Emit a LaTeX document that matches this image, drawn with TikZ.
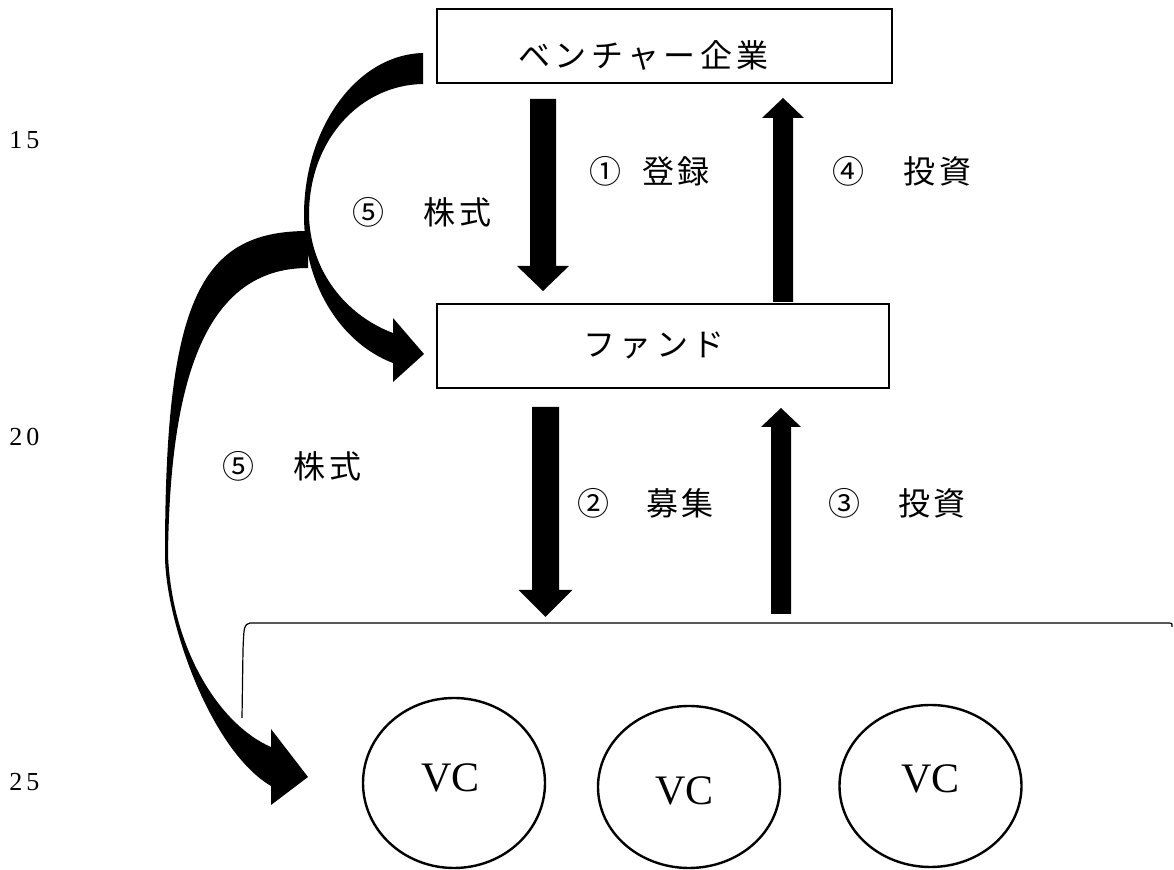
\documentclass[tikz,border=0pt]{standalone}
\usepackage{fontspec}
\setmainfont{Liberation Serif}
\newfontfamily\jp{Noto Sans CJK JP}
\usetikzlibrary{shapes.geometric}
\makeatletter
\newcommand\lsp[2]{\def\lsp@sep{}\@tfor\lsp@c:=#2\do{\lsp@sep\lsp@c\def\lsp@sep{\kern#1}}}
\makeatother
% vertical block arrow: x centre, y start, y head base, y tip, shaft half width, head half width
\newcommand\vblock[6]{\fill (#1-#5,#2) -- (#1-#5,#3) -- (#1-#6,#3) -- (#1,#4) -- (#1+#6,#3) -- (#1+#5,#3) -- (#1+#5,#2) -- cycle;}
\tikzset{
  boxnode/.style={draw, line width=1.3pt, rectangle, inner sep=0pt, outer sep=0pt},
  vcnode/.style={draw, line width=1.2pt, ellipse, inner sep=0pt, outer sep=0pt, minimum width=91pt},
  jptext/.style={inner sep=0pt, font=\jp\fontsize{16}{18}\selectfont},
  vctext/.style={inner sep=0pt, font=\fontsize{21}{24}\selectfont},
  linenum/.style={inner sep=0pt, font=\fontsize{13}{15}\selectfont},
}
\begin{document}
\begin{tikzpicture}[x=0.5pt, y=-0.5pt]
\useasboundingbox (0,0) rectangle (1174,870);
% boxes
\node[boxnode, minimum width=227.5pt, minimum height=37pt] (venture) at (664.5,46) {};
\node[jptext] (ventureT) at (643.5,55) {\lsp{2.2pt}{ベンチャー企業}};
\node[boxnode, minimum width=226pt, minimum height=42pt] (fund) at (663,346) {};
\node[jptext] (fundT) at (654,345) {\lsp{2.2pt}{ファンド}};
% VC ellipses
\node[vcnode, minimum height=85pt] (vc1) at (454,783) {};
\node[vcnode, minimum height=81pt] (vc2) at (689,787) {};
\node[vcnode, minimum height=81pt] (vc3) at (930.5,786) {};
\node[vctext] (vc1T) at (450.5,777.5) {VC};
\node[vctext] (vc2T) at (684.5,791) {VC};
\node[vctext] (vc3T) at (930.5,779) {VC};
% labels
\node[jptext] (l1) at (649.5,171) {\lsp{1.5pt}{①{\kern8pt}登録}};
\node[jptext] (l4) at (902,171) {\lsp{1.7pt}{④　投資}};
\node[jptext] (l2) at (645.5,503) {\lsp{1.5pt}{②　募集}};
\node[jptext] (l3) at (897,503) {\lsp{1.5pt}{③　投資}};
\node[jptext] (l5a) at (422,212) {\lsp{1.7pt}{⑤　株式}};
\node[jptext] (l5b) at (292,466) {\lsp{1.7pt}{⑤　株式}};
% line numbers
\node[linenum] (n15) at (24.5,140) {1\kern2pt 5};
\node[linenum] (n20) at (24.5,437) {2\kern2pt 0};
\node[linenum] (n25) at (24.5,782) {2\kern2pt 5};
% straight block arrows
\vblock{543}{99}{266}{291}{13}{26}
\vblock{783}{302}{118}{98}{10}{21}
\vblock{545.5}{407}{590}{617}{13.5}{27}
\vblock{781}{614}{427}{408}{10}{20}
% curved arrow: venture -> fund
\fill (423,53) .. controls (355,55) and (304,130) .. (304,215)
  .. controls (304,290) and (345,345) .. (393,363)
  -- (393,382) -- (424,354) -- (393,318) -- (393,333)
  .. controls (345,315) and (310,270) .. (309,215)
  .. controls (309,140) and (360,85) .. (423,84) -- cycle;
% curved arrow: -> VC
\fill (308,231) .. controls (200,231) and (165,300) .. (165,555)
  .. controls (165,620) and (210,750) .. (271,786)
  -- (271,805) -- (308,777) -- (271,729) -- (271,747)
  .. controls (220,725) and (172,650) .. (168,555)
  .. controls (170,380) and (205,268) .. (308,268) -- cycle;
% bracket over the VCs
\draw[line width=0.6pt] (242,718) -- (243,650) .. controls (244,625) .. (250,623)
  -- (1169,623) .. controls (1172,623) .. (1172,627);
\end{tikzpicture}
\end{document}
